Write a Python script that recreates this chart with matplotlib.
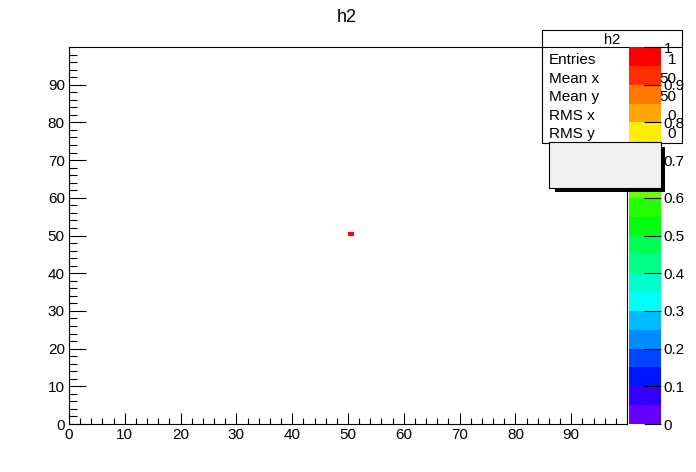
import colorsys
import matplotlib
matplotlib.use("Agg")
import matplotlib.pyplot as plt
from matplotlib.patches import Rectangle
from matplotlib.colors import ListedColormap, BoundaryNorm
import numpy as np

plt.rcParams['font.family'] = ['Liberation Sans', 'DejaVu Sans']

# histogram: 100 x 100 bins from 0 to 100, one entry at (50, 50)
x_edges = np.arange(0, 101)
y_edges = np.arange(0, 101)
counts = np.zeros((100, 100))
counts[50, 50] = 1  # [y, x]

# stats box
stat_names = ["Entries", "Mean x", "Mean y", "RMS x", "RMS y"]
stat_values = ["1", "50", "50", "0", "0"]

# colour levels (20 contours between 0 and 1)
levels = np.linspace(0, 1, 21)
cbar_ticks = [0, 0.1, 0.2, 0.3, 0.4, 0.5, 0.6, 0.7, 0.8, 0.9, 1]
cbar_labels = ["0", "0.1", "0.2", "0.3", "0.4", "0.5", "0.6", "0.7", "0.8", "0.9", "1"]
x_ticks = [0, 10, 20, 30, 40, 50, 60, 70, 80, 90]
y_ticks = [0, 10, 20, 30, 40, 50, 60, 70, 80, 90]

# ROOT "pretty" palette, 50 colours violet -> red, picked for 20 levels
pretty = []
for i in range(49):
    hue = 280 - (i + 1) * 280 / 50
    pretty.append(colorsys.hls_to_rgb(hue / 360, 0.5, 1))
pretty.append((1, 0, 0))
ncont = len(levels) - 1
cols = [pretty[int((j + 0.99) * 50 / ncont)] for j in range(ncont)]
cmap = ListedColormap(cols)
norm = BoundaryNorm(levels, cmap.N)

W, H = 696, 472
FS = 11
fig = plt.figure(figsize=(W / 100, H / 100), dpi=100)


def box(x0, y0, x1, y1):
    return [x0 / W, 1 - y1 / H, (x1 - x0) / W, (y1 - y0) / H]


ax = fig.add_axes(box(69, 47, 627, 424))
ax.set_zorder(0)
data = np.ma.masked_equal(counts, 0)
ax.pcolormesh(x_edges, y_edges, data, cmap=cmap, norm=norm)
ax.set_xlim(0, 100)
ax.set_ylim(0, 100)
ax.set_xticks(x_ticks)
ax.set_yticks(y_ticks)
ax.set_xticks(np.arange(0, 100, 2), minor=True)
ax.set_yticks(np.arange(0, 100, 2), minor=True)
ax.tick_params(axis='both', which='both', direction='in', width=0.8, labelsize=FS)
ax.tick_params(axis='x', which='major', length=8, pad=3)
ax.tick_params(axis='x', which='minor', length=4)
ax.tick_params(axis='y', which='major', length=12, pad=3)
ax.tick_params(axis='y', which='minor', length=5.8)
for s in ax.spines.values():
    s.set_linewidth(0.8)

fig.text(347 / W, 1 - 18 / H, "h2", ha='center', va='center', fontsize=13)

# overlay in pixel coordinates for the stats box
ov = fig.add_axes([0, 0, 1, 1])
ov.set_zorder(1)
ov.set_xlim(0, W)
ov.set_ylim(H, 0)
ov.axis('off')
ov.patch.set_alpha(0)
ov.add_patch(Rectangle((542, 30), 140, 113, facecolor='white', edgecolor='black', linewidth=0.8))
ov.plot([542, 682], [47, 47], color='black', linewidth=0.8)
ov.text(612, 40, "h2", ha='center', va='center', fontsize=FS - 0.5)
for k, (name, val) in enumerate(zip(stat_names, stat_values)):
    yy = 60 + k * 18.6
    ov.text(549, yy, name, ha='left', va='center', fontsize=FS)
    ov.text(676, yy, val, ha='right', va='center', fontsize=FS)

# colour bar
cax = fig.add_axes(box(629, 47, 661, 424))
cax.set_zorder(2)
cax.pcolormesh([0, 1], levels, np.array(levels[:-1]).reshape(-1, 1) + 0.001, cmap=cmap, norm=norm)
cax.set_xlim(0, 1)
cax.set_ylim(0, 1)
cax.set_xticks([])
cax.yaxis.tick_right()
cax.set_yticks(cbar_ticks)
cax.set_yticklabels(cbar_labels)
cax.tick_params(axis='y', direction='in', length=12, width=0.8, labelsize=FS, pad=2)
for s in cax.spines.values():
    s.set_visible(False)

# grey box with shadow on top
ov2 = fig.add_axes([0, 0, 1, 1])
ov2.set_zorder(3)
ov2.set_xlim(0, W)
ov2.set_ylim(H, 0)
ov2.axis('off')
ov2.patch.set_alpha(0)
ov2.add_patch(Rectangle((555, 147), 110, 45, facecolor='black', edgecolor='black', linewidth=0))
ov2.add_patch(Rectangle((549, 142), 112, 46, facecolor='#f0f0f0', edgecolor='black', linewidth=0.8))

fig.savefig("out.png", dpi=100)
